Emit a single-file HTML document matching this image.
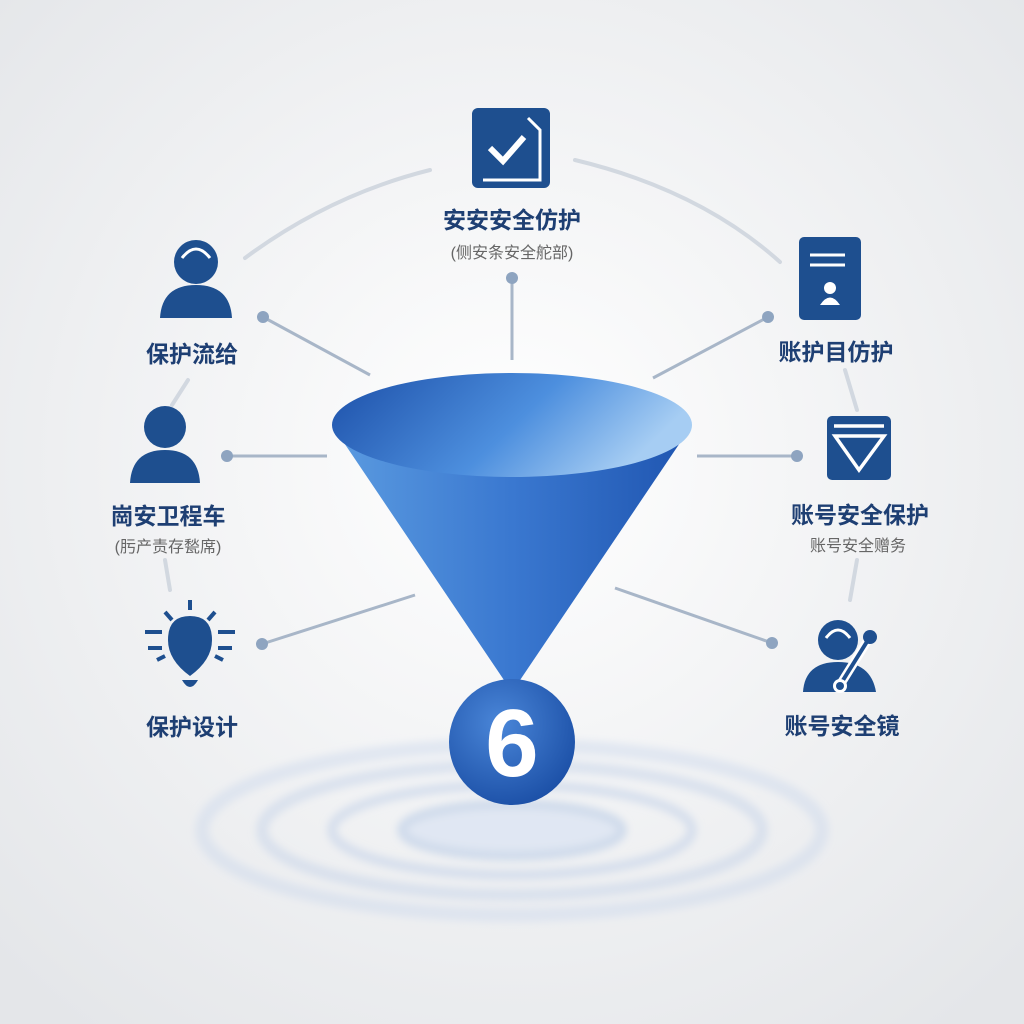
<!DOCTYPE html>
<html><head><meta charset="utf-8"><style>
html,body{margin:0;padding:0;width:1024px;height:1024px;overflow:hidden;background:#f4f5f7;}
text{font-family:"Liberation Sans","Noto Sans CJK SC",sans-serif;}
</style></head><body>
<svg width="1024" height="1024" viewBox="0 0 1024 1024" xmlns="http://www.w3.org/2000/svg">
<defs>
<radialGradient id="bg" cx="50%" cy="45%" r="70%"><stop offset="0" stop-color="#ffffff"/><stop offset="1" stop-color="#e4e6e9"/></radialGradient>
<linearGradient id="cone" x1="0" y1="0" x2="1" y2="0"><stop offset="0" stop-color="#5b9be0"/><stop offset="0.5" stop-color="#3a78d0"/><stop offset="1" stop-color="#1f55b0"/></linearGradient>
<linearGradient id="inner" x1="0" y1="0" x2="1" y2="0.3"><stop offset="0" stop-color="#1c4fa8"/><stop offset="0.6" stop-color="#4d8fde"/><stop offset="1" stop-color="#a6cdf3"/></linearGradient>
<radialGradient id="ball" cx="40%" cy="35%" r="70%"><stop offset="0" stop-color="#4a86d8"/><stop offset="1" stop-color="#1b4fa6"/></radialGradient>
<filter id="blur"><feGaussianBlur stdDeviation="4"/></filter>
</defs>
<rect width="1024" height="1024" fill="url(#bg)"/>
<!-- ripples -->
<g fill="none" stroke="#c9d6ea" filter="url(#blur)">
<ellipse cx="512" cy="830" rx="310" ry="85" stroke-width="14" opacity="0.45"/>
<ellipse cx="512" cy="830" rx="250" ry="65" stroke-width="12" opacity="0.55"/>
<ellipse cx="512" cy="830" rx="180" ry="45" stroke-width="10" opacity="0.65"/>
<ellipse cx="512" cy="830" rx="110" ry="26" stroke-width="10" fill="#dce5f3" opacity="0.8"/>
</g>
<!-- arcs -->
<g fill="none" stroke="#d2d8e0" stroke-width="4" stroke-linecap="round">
<path d="M245 258 Q330 195 430 170"/>
<path d="M575 160 Q700 190 780 262"/>
<path d="M188 380 L172 405"/><path d="M165 560 L170 590"/>
<path d="M845 370 L857 410"/><path d="M857 560 L850 600"/>
</g>
<!-- connectors -->
<g stroke="#a8b6c8" stroke-width="3" fill="#8ea4c0">
<line x1="263" y1="317" x2="370" y2="375"/><circle cx="263" cy="317" r="6" stroke="none"/>
<line x1="227" y1="456" x2="327" y2="456"/><circle cx="227" cy="456" r="6" stroke="none"/>
<line x1="262" y1="644" x2="415" y2="595"/><circle cx="262" cy="644" r="6" stroke="none"/>
<line x1="512" y1="278" x2="512" y2="360"/><circle cx="512" cy="278" r="6" stroke="none"/>
<line x1="768" y1="317" x2="653" y2="378"/><circle cx="768" cy="317" r="6" stroke="none"/>
<line x1="797" y1="456" x2="697" y2="456"/><circle cx="797" cy="456" r="6" stroke="none"/>
<line x1="772" y1="643" x2="615" y2="588"/><circle cx="772" cy="643" r="6" stroke="none"/>
</g>
<!-- funnel -->
<path d="M332 425 L512 692 L692 425 Z" fill="url(#cone)"/>
<ellipse cx="512" cy="425" rx="180" ry="52" fill="url(#inner)"/>
<circle cx="512" cy="742" r="63" fill="url(#ball)"/>
<text x="512" y="776" text-anchor="middle" font-size="96" font-weight="bold" fill="#fff">6</text>
<!-- icons -->
<g fill="#1e4f8f">
<rect x="472" y="108" width="78" height="80" rx="6"/>
<path d="M490 148 L503 161 L524 137" stroke="#fff" stroke-width="6" fill="none"/>
<path d="M483 180 H540 V130 L528 118" stroke="#fff" stroke-width="3" fill="none"/>
<circle cx="196" cy="262" r="22"/><path d="M160 318 Q162 285 196 285 Q230 285 232 318 Z"/>
<path d="M182 258 Q196 240 210 258" stroke="#fff" stroke-width="3" fill="none"/>
<circle cx="165" cy="427" r="21"/><path d="M130 483 Q132 450 165 450 Q198 450 200 483 Z"/>
<path d="M168 640 Q168 616 190 616 Q212 616 212 640 Q212 660 190 676 Q168 660 168 640 Z"/>
<path d="M182 680 Q190 694 198 680 Z"/>
<g stroke="#1e4f8f" stroke-width="4"><line x1="190" y1="600" x2="190" y2="610"/><line x1="165" y1="612" x2="172" y2="620"/><line x1="215" y1="612" x2="208" y2="620"/><line x1="145" y1="632" x2="162" y2="632"/><line x1="218" y1="632" x2="235" y2="632"/><line x1="148" y1="648" x2="162" y2="648"/><line x1="218" y1="648" x2="232" y2="648"/><line x1="157" y1="660" x2="165" y2="656"/><line x1="223" y1="660" x2="215" y2="656"/></g>
<rect x="799" y="237" width="62" height="83" rx="5"/>
<g stroke="#fff" stroke-width="3"><line x1="810" y1="255" x2="845" y2="255"/><line x1="810" y1="265" x2="845" y2="265"/></g>
<circle cx="830" cy="288" r="6" fill="#fff"/><path d="M820 305 Q830 290 840 305 Z" fill="#fff"/>
<rect x="827" y="416" width="64" height="64" rx="5"/>
<g stroke="#fff" stroke-width="3.5" fill="none"><line x1="834" y1="426" x2="884" y2="426"/><path d="M835 436 H884 L859 470 Z"/></g>
<circle cx="838" cy="640" r="20"/><path d="M803 692 Q805 662 838 662 Q871 662 876 692 Z"/>
<path d="M826 638 Q838 622 850 638" stroke="#fff" stroke-width="3" fill="none"/>
<line x1="840" y1="685" x2="868" y2="640" stroke="#fff" stroke-width="9"/><line x1="840" y1="685" x2="868" y2="640" stroke="#1e4f8f" stroke-width="4"/>
<circle cx="870" cy="637" r="7"/><circle cx="840" cy="686" r="7" fill="#fff"/><circle cx="840" cy="686" r="4"/>
</g>
<g fill="#1e3f73" font-weight="bold" font-size="23" text-anchor="middle">
<text x="512" y="228">安安安全仿护</text>
<text x="192" y="362">保护流给</text>
<text x="168" y="524">崗安卫程车</text>
<text x="192" y="735">保护设计</text>
<text x="836" y="360">账护目仿护</text>
<text x="860" y="523">账号安全保护</text>
<text x="842" y="734">账号安全镜</text>
</g>
<g fill="#666" font-size="16" text-anchor="middle">
<text x="512" y="258">(侧安条安全舵部)</text>
<text x="168" y="552">(肟产责存甃席)</text>
<text x="858" y="551">账号安全赠务</text>
</g>
</svg>
</body></html>
